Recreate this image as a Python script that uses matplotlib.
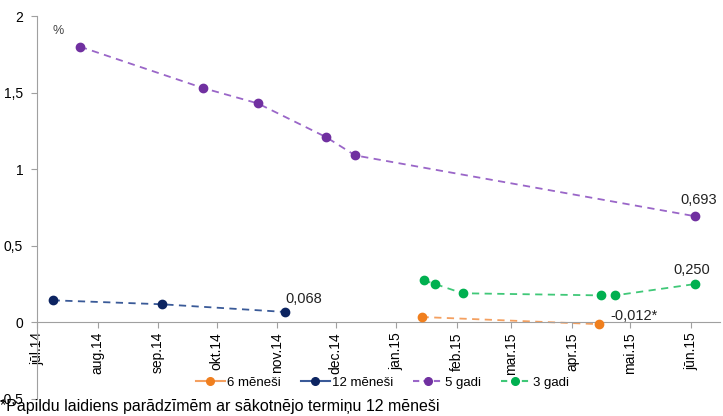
import matplotlib
matplotlib.use("Agg")
import matplotlib.pyplot as plt
from matplotlib.lines import Line2D
import datetime as dt

plt.rcParams['font.family'] = ['Liberation Sans', 'DejaVu Sans']

# dati (ienesīgums, %)
d6 = [dt.date(2015, 1, 14), dt.date(2015, 4, 15)]
v6 = [0.035, -0.012]
d12 = [dt.date(2014, 7, 9), dt.date(2014, 9, 3), dt.date(2014, 11, 5)]
v12 = [0.144, 0.118, 0.068]
d5y = [dt.date(2014, 7, 23), dt.date(2014, 9, 24), dt.date(2014, 10, 22),
       dt.date(2014, 11, 26), dt.date(2014, 12, 11), dt.date(2015, 6, 3)]
v5y = [1.80, 1.53, 1.43, 1.21, 1.09, 0.693]
d3y = [dt.date(2015, 1, 15), dt.date(2015, 1, 21), dt.date(2015, 2, 4),
       dt.date(2015, 4, 16), dt.date(2015, 4, 23), dt.date(2015, 6, 3)]
v3y = [0.275, 0.25, 0.19, 0.176, 0.176, 0.250]

month_labels = ['jūl.14', 'aug.14', 'sep.14', 'okt.14', 'nov.14', 'dec.14',
                'jan.15', 'feb.15', 'mar.15', 'apr.15', 'mai.15', 'jūn.15']
month_ticks = [dt.date(2014 + (6 + i) // 12, (6 + i) % 12 + 1, 1) for i in range(12)]

c6, c12, c5, c3 = '#F07F1E', '#0C2461', '#7030A0', '#00B050'
l6, l12, l5, l3 = '#F4A060', '#3A5A98', '#9A66C8', '#40C878'

fig = plt.figure(figsize=(7.23, 4.16), dpi=100)
ax = fig.add_axes([0.0512, 0.041, 0.945, 0.9205])

def series(d, v, mc, lc):
    ax.plot(d, v, linestyle=(0, (4, 3)), color=lc, lw=1.3, zorder=2)
    ax.plot(d, v, linestyle='none', marker='o', ms=6, color=mc, zorder=3)

series(d6, v6, c6, l6)
series(d12, v12, c12, l12)
series(d5y, v5y, c5, l5)
series(d3y, v3y, c3, l3)

ax.set_xlim(dt.date(2014, 7, 1), dt.date(2015, 6, 16))
ax.set_ylim(-0.5, 2)
ax.set_yticks([-0.5, 0, 0.5, 1, 1.5, 2])
ax.set_yticklabels(['-0,5', '0', '0,5', '1', '1,5', '2'], fontsize=10)
ax.set_xticks(month_ticks)
ax.set_xticklabels(month_labels, fontsize=7.5, color='#333333')

for s in ['top', 'right']:
    ax.spines[s].set_visible(False)
ax.spines['bottom'].set_position(('data', 0))
ax.spines['bottom'].set_color('#A0A0A0')
ax.spines['left'].set_color('#A0A0A0')
ax.tick_params(axis='x', direction='out', length=4, color='#A0A0A0', pad=3,
               labelrotation=90)
ax.tick_params(axis='y', direction='out', length=4, color='#A0A0A0', pad=6)
for lab in ax.get_xticklabels():
    lab.set_rotation(90)
    lab.set_ha('center')
    lab.set_va('top')

ax.text(dt.date(2014, 7, 9), 1.88, '%', fontsize=9, color='#444444')

kw = dict(textcoords='offset points', fontsize=10.5, color='#222222', va='baseline')
ax.annotate('0,068', (d12[2], v12[2]), xytext=(0, 6.5), ha='left', **kw)
ax.annotate('0,693', (d5y[5], v5y[5]), xytext=(2.5, 8.6), ha='center', **kw)
ax.annotate('0,250', (d3y[5], v3y[5]), xytext=(-2, 7.2), ha='center', **kw)
ax.annotate('-0,012*', (d6[1], v6[1]), xytext=(8, 3), ha='left', **kw)

handles = [
    Line2D([], [], color=l6, lw=1.5, marker='o', ms=5.5, mfc=c6, mec=c6),
    Line2D([], [], color=l12, lw=1.5, marker='o', ms=5.5, mfc=c12, mec=c12),
    Line2D([], [], color=l5, lw=1.5, ls=(0, (3, 2)), marker='o', ms=5.5, mfc=c5, mec=c5),
    Line2D([], [], color=l3, lw=1.5, ls=(0, (3, 2)), marker='o', ms=5.5, mfc=c3, mec=c3),
]
ax.legend(handles, ['6 mēneši', '12 mēneši', '5 gadi', '3 gadi'], ncol=4,
          frameon=False, fontsize=9.5, loc='center', bbox_to_anchor=(0.505, 0.042),
          handlelength=2.2, handletextpad=0.2, columnspacing=1.5)

fig.text(0.0, 0.005, '*Papildu laidiens parādzīmēm ar sākotnējo termiņu 12 mēneši',
         fontsize=11.5, ha='left', va='bottom')

fig.savefig('out.png', dpi=100)
